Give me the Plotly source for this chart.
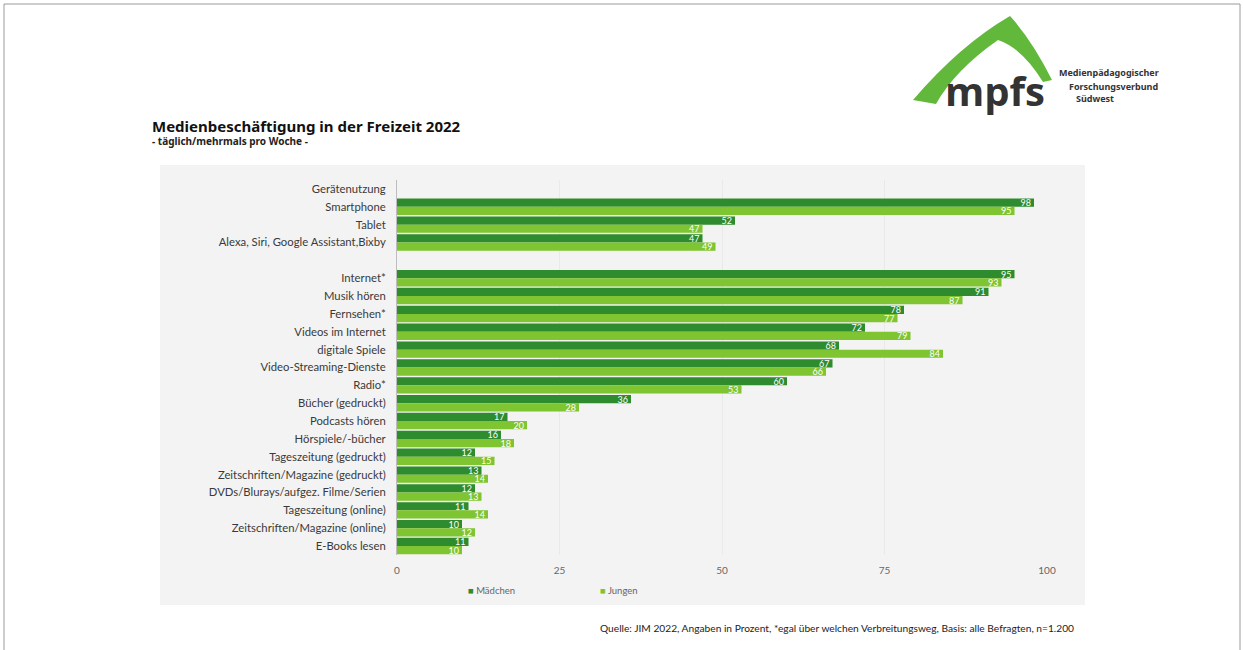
import plotly.graph_objects as go

categories = ["Gerätenutzung", "Smartphone", "Tablet", "Alexa, Siri, Google Assistant,Bixby", " ",
              "Internet*", "Musik hören", "Fernsehen*", "Videos im Internet", "digitale Spiele",
              "Video-Streaming-Dienste", "Radio*", "Bücher (gedruckt)", "Podcasts hören",
              "Hörspiele/-bücher", "Tageszeitung (gedruckt)", "Zeitschriften/Magazine (gedruckt)",
              "DVDs/Blurays/aufgez. Filme/Serien", "Tageszeitung (online)",
              "Zeitschriften/Magazine (online)", "E-Books lesen"]
maedchen = [None, 98, 52, 47, None, 95, 91, 78, 72, 68, 67, 60, 36, 17, 16, 12, 13, 12, 11, 10, 11]
jungen = [None, 95, 47, 49, None, 93, 87, 77, 79, 84, 66, 53, 28, 20, 18, 15, 14, 13, 14, 12, 10]
x_ticks = [0, 25, 50, 75, 100]
series_names = ["Mädchen", "Jungen"]
series_colors = ["#2e8b2e", "#7fc431"]

W, H = 1244, 650
L, R, T, B = 397, 1047, 180, 555


def px(x):
    return (x - L) / (R - L)


def py(y):
    return (B - y) / (B - T)


def lbl(v):
    return [("" if a is None else str(a)) for a in v]


FONT = "Lato"
fig = go.Figure()
for name, vals, col in zip(series_names, [maedchen, jungen], series_colors):
    fig.add_trace(go.Bar(y=categories, x=vals, name=name, orientation="h",
                         marker=dict(color=col, line=dict(width=0)),
                         text=lbl(vals), textposition="inside", insidetextanchor="end",
                         textangle=0, constraintext="none",
                         textfont=dict(color="white", size=9, family=FONT),
                         cliponaxis=False, showlegend=False))

shapes = []
# outer frame
shapes.append(dict(type="rect", xref="paper", yref="paper", x0=px(4), x1=px(1240), y0=py(4), y1=py(700),
                   line=dict(color="#9a9a9a", width=1), fillcolor="rgba(0,0,0,0)", layer="below"))
# gray chart background
shapes.append(dict(type="rect", xref="paper", yref="paper", x0=px(160), x1=px(1085), y0=py(165), y1=py(605),
                   line=dict(width=0), fillcolor="#f3f3f3", layer="below"))
# logo arch
pts = [("M", 913, 100), ("Q", 960, 45, 1010, 16), ("Q", 1032, 40, 1052, 80), ("L", 1043, 82),
       ("Q", 1022, 48, 998, 40), ("Q", 955, 70, 936, 104)]
path = ""
for p in pts:
    if p[0] in ("M", "L"):
        path += f"{p[0]} {px(p[1]):.5f},{py(p[2]):.5f} "
    else:
        path += f"Q {px(p[1]):.5f},{py(p[2]):.5f} {px(p[3]):.5f},{py(p[4]):.5f} "
path += "Z"
shapes.append(dict(type="path", xref="paper", yref="paper", path=path,
                   fillcolor="#62b83a", line=dict(width=0), layer="above"))

annotations = [
    dict(text="<b>Medienbeschäftigung in der Freizeit 2022</b>", x=px(150), y=py(126), xref="paper", yref="paper",
         xanchor="left", yanchor="middle", showarrow=False, font=dict(size=15, color="#111", family="Noto Sans")),
    dict(text="<b>- täglich/mehrmals pro Woche -</b>", x=px(150), y=py(141), xref="paper", yref="paper",
         xanchor="left", yanchor="middle", showarrow=False, font=dict(size=10, color="#222", family="Noto Sans")),
    dict(text="<b>mpfs</b>", x=px(995), y=py(90), xref="paper", yref="paper",
         xanchor="center", yanchor="middle", showarrow=False, font=dict(size=40, color="#333", family="Open Sans")),
    dict(text="<b>Medienpädagogischer</b>", x=px(1057), y=py(73), xref="paper", yref="paper",
         xanchor="left", yanchor="middle", showarrow=False, font=dict(size=9, color="#333", family="Noto Sans")),
    dict(text="<b>Forschungsverbund</b>", x=px(1067), y=py(86), xref="paper", yref="paper",
         xanchor="left", yanchor="middle", showarrow=False, font=dict(size=9, color="#333", family="Noto Sans")),
    dict(text="<b>Südwest</b>", x=px(1074), y=py(98), xref="paper", yref="paper",
         xanchor="left", yanchor="middle", showarrow=False, font=dict(size=9, color="#333", family="Noto Sans")),
    dict(text="Quelle: JIM 2022, Angaben in Prozent, *egal über welchen Verbreitungsweg, Basis: alle Befragten, n=1.200",
         x=px(1076), y=py(628), xref="paper", yref="paper", xanchor="right", yanchor="middle", showarrow=False,
         font=dict(size=10.2, color="#222", family=FONT)),
]
# legend drawn as text with square symbols
for name, col, lx in zip(series_names, series_colors, [466, 598]):
    annotations.append(dict(text=f"<span style='color:{col}'>■</span> {name}", x=px(lx), y=py(590),
                            xref="paper", yref="paper", xanchor="left", yanchor="middle", showarrow=False,
                            font=dict(size=9.5, color="#666", family=FONT)))

fig.update_layout(
    width=W, height=H,
    margin=dict(l=L, r=W - R, t=T, b=H - B, pad=0),
    paper_bgcolor="white", plot_bgcolor="rgba(0,0,0,0)",
    barmode="group", bargap=0.08, bargroupgap=0.0,
    font=dict(family=FONT, color="#444"),
    showlegend=False,
    xaxis=dict(range=[0, 100], tickvals=x_ticks, showgrid=True, gridcolor="#e9e9e9", gridwidth=1,
               zeroline=False, showline=False, tickfont=dict(size=10, color="#666"), ticks="",
               ticklabelstandoff=8),
    yaxis=dict(categoryorder="array", categoryarray=categories, autorange="reversed",
               showline=True, linecolor="#bdbdbd", linewidth=1, ticks="", showgrid=False,
               tickfont=dict(size=11.3, color="#3a3a3a"), ticklabelstandoff=8),
    shapes=shapes, annotations=annotations,
)

fig.write_html("out.html")
